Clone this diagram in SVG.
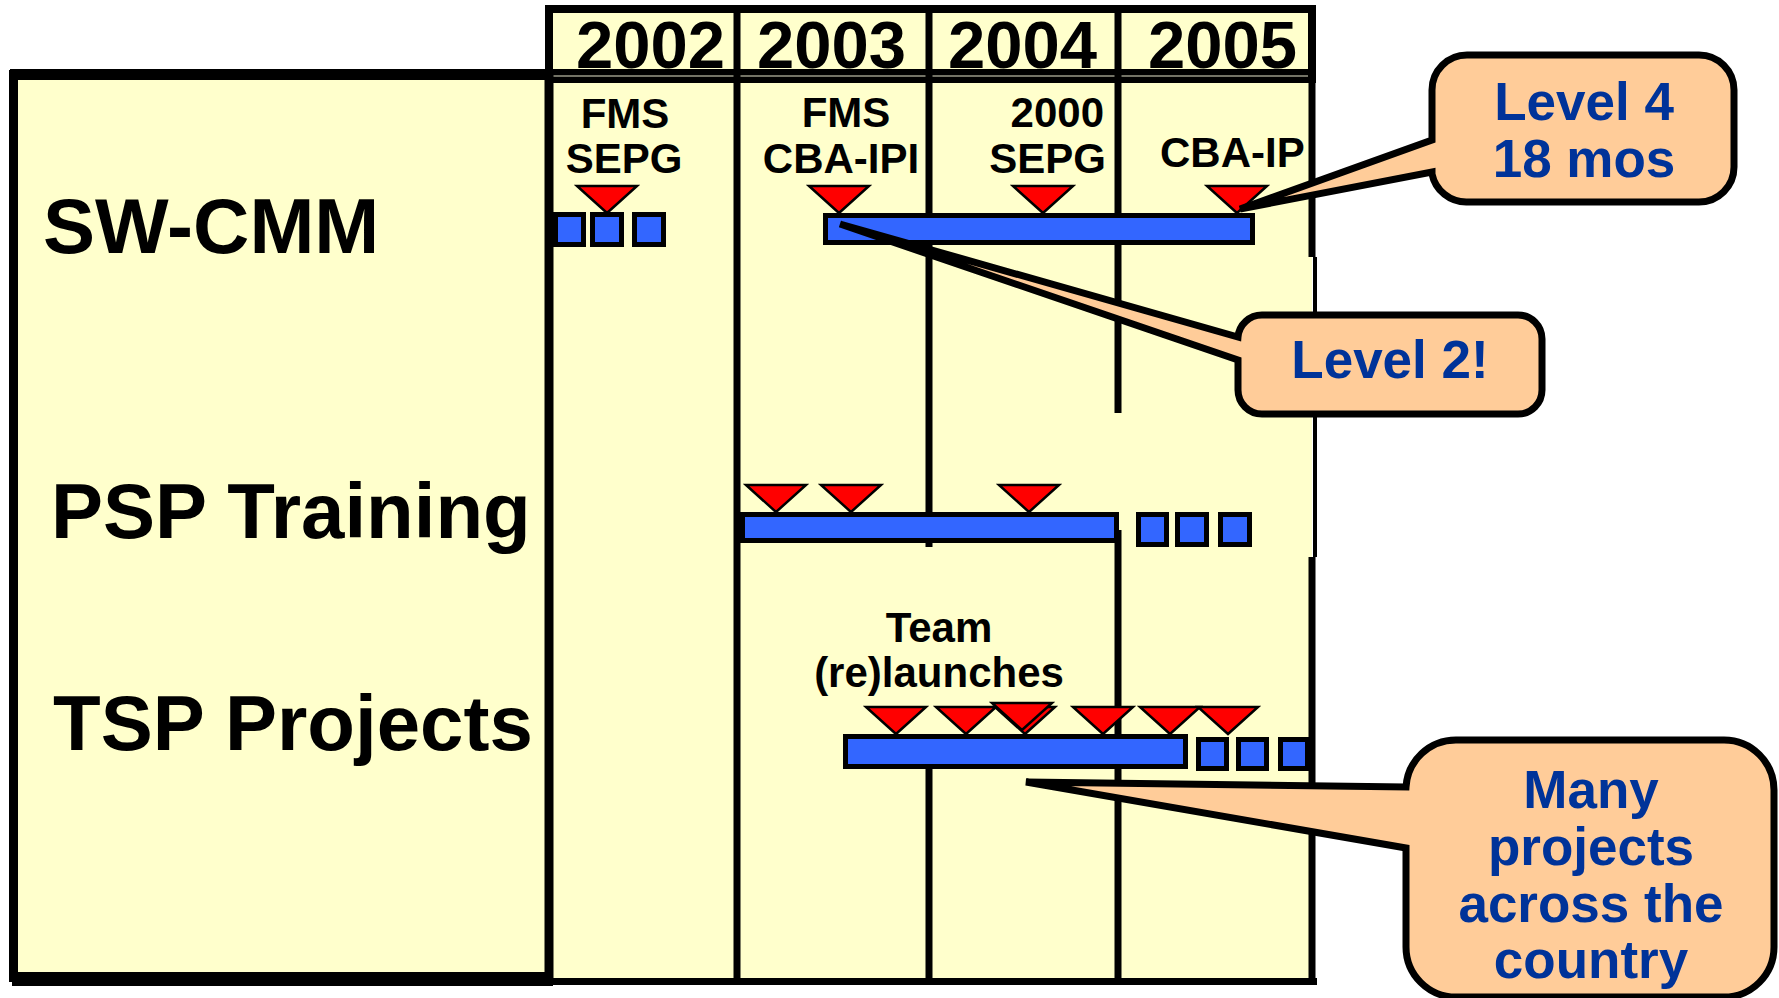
<svg xmlns="http://www.w3.org/2000/svg" xmlns:xlink="http://www.w3.org/1999/xlink" width="1779" height="998" viewBox="0 0 1779 998">
<style>
text{font-family:"Liberation Sans",Arial,sans-serif;font-weight:bold;}
.yr{font-size:67px;fill:#000;}
.row{font-size:78px;fill:#000;}
.lbl{font-size:42px;fill:#000;text-anchor:middle;}
.call{font-size:53px;fill:#003399;text-anchor:middle;}
.ln{stroke:#000;stroke-width:7;fill:none;}
.bar{fill:#3366FF;stroke:#000;stroke-width:5;}
.tri{fill:#FF0000;stroke:#000;stroke-width:2.5;stroke-linejoin:miter;}
.bubble{fill:#FFCC99;stroke:#000;stroke-width:7;stroke-linejoin:miter;stroke-miterlimit:3;}
</style>
<defs>
<path id="tri" class="tri" d="M-30,0 L30,0 L0,27 Z"/>
</defs>
<rect width="1779" height="998" fill="#fff"/>

<g id="frame">
<!-- timeline body -->
<rect x="549" y="76" width="763" height="905" fill="#FFFFCC"/>
<!-- header -->
<rect x="549" y="9" width="763" height="64" fill="#FFFFCC" stroke="#000" stroke-width="8"/>
<rect x="545" y="69" width="771" height="14" fill="#000"/>
<line x1="553" y1="76" x2="1308" y2="76" stroke="#9a9a88" stroke-width="1.5"/>
<!-- left panel -->
<rect x="13.5" y="74.5" width="535.5" height="903" fill="#FFFFCC" stroke="#000" stroke-width="9"/>
<rect x="10" y="69" width="543" height="11" fill="#000"/>
<rect x="12" y="972" width="541" height="14" fill="#000"/>
<!-- bottom line -->
<rect x="545" y="978" width="772" height="7" fill="#000"/>
</g>

<g id="grid">
<line class="ln" x1="549" y1="9" x2="549" y2="985"/>
<line class="ln" x1="737" y1="9" x2="737" y2="985"/>
<line class="ln" x1="929" y1="9" x2="929" y2="547"/>
<line class="ln" x1="929" y1="766" x2="929" y2="985"/>
<line class="ln" x1="1118" y1="9" x2="1118" y2="413"/>
<line class="ln" x1="1118" y1="530" x2="1118" y2="985"/>
<line class="ln" x1="1312" y1="5" x2="1312" y2="257" stroke-width="8"/>
<line x1="1315" y1="257" x2="1315" y2="557" stroke="#000" stroke-width="4"/>
<line class="ln" x1="1312" y1="557" x2="1312" y2="985" stroke-width="8"/>
</g>

<g id="years">
<text class="yr" x="576" y="68">2002</text>
<text class="yr" x="757" y="68">2003</text>
<text class="yr" x="948" y="68">2004</text>
<text class="yr" x="1148" y="68">2005</text>
</g>

<g id="rows">
<text class="row" x="43" y="253">SW-CMM</text>
<text class="row" x="51" y="538" font-size="77">PSP Training</text>
<text class="row" x="53" y="750" font-size="77">TSP Projects</text>
</g>

<g id="labels">
<text class="lbl" x="625" y="128">FMS</text>
<text class="lbl" x="624" y="173">SEPG</text>
<text class="lbl" x="846" y="127">FMS</text>
<text class="lbl" x="841" y="173">CBA-IPI</text>
<text class="lbl" x="1104" y="127" style="text-anchor:end">2000</text>
<text class="lbl" x="1106" y="173" style="text-anchor:end">SEPG</text>
<text class="lbl" x="1160" y="167" style="text-anchor:start">CBA-IP</text>
<text class="lbl" x="939" y="642">Team</text>
<text class="lbl" x="939" y="687">(re)launches</text>
</g>

<g id="sw-cmm">
<rect class="bar" x="555.5" y="214.5" width="28" height="30"/>
<rect class="bar" x="592.5" y="214.5" width="29" height="30"/>
<rect class="bar" x="634.5" y="214.5" width="29" height="30"/>
<rect class="bar" x="825.5" y="215.5" width="427" height="27"/>
<use xlink:href="#tri" x="607" y="186"/>
<use xlink:href="#tri" x="839" y="186"/>
<use xlink:href="#tri" x="1043" y="186"/>
<use xlink:href="#tri" x="1237" y="186"/>
</g>

<g id="psp">
<rect class="bar" x="742.5" y="514.5" width="374" height="26"/>
<rect class="bar" x="1138.5" y="514.5" width="28" height="30"/>
<rect class="bar" x="1177.5" y="514.5" width="29" height="30"/>
<rect class="bar" x="1220.5" y="514.5" width="29" height="30"/>
<use xlink:href="#tri" x="776" y="485"/>
<use xlink:href="#tri" x="851" y="485"/>
<use xlink:href="#tri" x="1029" y="485"/>
</g>

<g id="tsp">
<rect class="bar" x="845.5" y="736.5" width="340" height="30"/>
<rect class="bar" x="1198.5" y="739.5" width="28" height="29"/>
<rect class="bar" x="1238.5" y="739.5" width="28" height="29"/>
<rect class="bar" x="1280.5" y="739.5" width="27" height="29"/>
<use xlink:href="#tri" x="896" y="707"/>
<use xlink:href="#tri" x="966" y="707"/>
<use xlink:href="#tri" x="1025" y="707"/>
<use xlink:href="#tri" x="1022" y="703"/>
<use xlink:href="#tri" x="1103" y="707"/>
<use xlink:href="#tri" x="1170" y="707"/>
<use xlink:href="#tri" x="1228" y="707"/>
</g>

<g id="connectors">
<g id="callout-level4">
<path class="bubble" d="M1467,55 H1699 A35,35 0 0 1 1734,90 V167 A35,35 0 0 1 1699,202 H1467 A35,35 0 0 1 1432,174 L1432,172 L1240,209 L1432,140 V90 A35,35 0 0 1 1467,55 Z"/>
<text class="call" x="1584" y="120">Level 4</text>
<text class="call" x="1584" y="177">18 mos</text>
</g>
<g id="callout-level2">
<path class="bubble" d="M1262,315 H1518 A24,24 0 0 1 1542,339 V390 A24,24 0 0 1 1518,414 H1262 A24,24 0 0 1 1238,390 V360 L840,224 L1238,337 A24,24 0 0 1 1262,315 Z"/>
<text class="call" x="1390" y="378">Level 2!</text>
</g>
<g id="callout-many">
<path class="bubble" d="M1456,740 H1724 A50,50 0 0 1 1774,790 V947 A50,50 0 0 1 1724,997 H1456 A50,50 0 0 1 1406,947 V848 L1026,782 L1406,787 A50,50 0 0 1 1456,740 Z"/>
<text class="call" x="1591" y="808">Many</text>
<text class="call" x="1591" y="865">projects</text>
<text class="call" x="1591" y="922">across the</text>
<text class="call" x="1591" y="978">country</text>
</g>
</g>
</svg>
